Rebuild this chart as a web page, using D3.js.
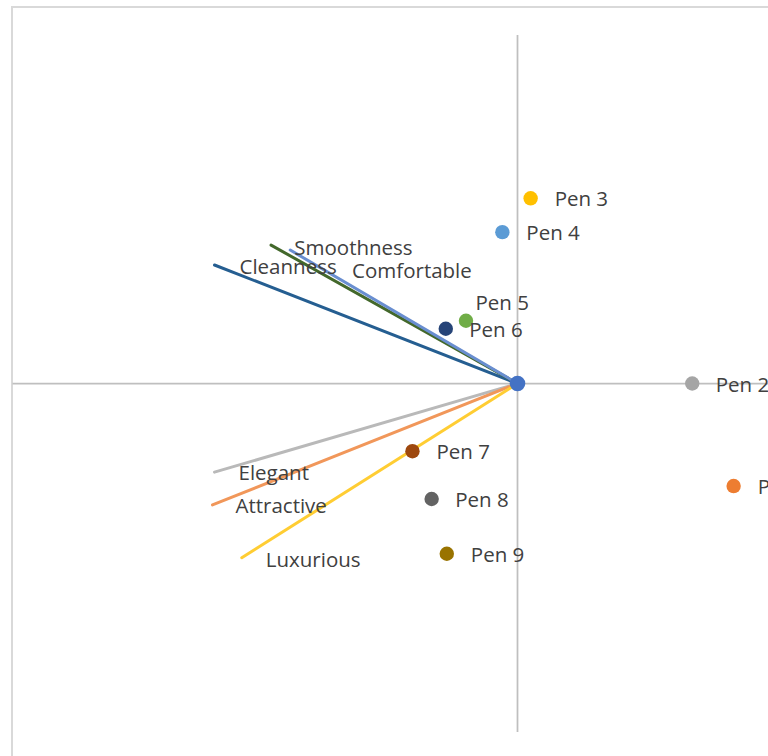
<!DOCTYPE html>
<html>
<head>
<meta charset="utf-8">
<script src="https://cdn.jsdelivr.net/npm/d3@7"></script>
<style>
  html, body { margin: 0; padding: 0; background: #ffffff; overflow: hidden; }
  svg { display: block; }
  text { font-family: "Open Sans", "Noto Sans", sans-serif; font-size: 20.5px; fill: #404040; }
</style>
</head>
<body>
<svg id="chart" width="768" height="756"></svg>
<script>
// ---- data ----
const attributes = ["Cleanness", "Comfortable", "Smoothness", "Elegant", "Attractive", "Luxurious"];
const attrX = [-3.00, -2.44, -2.25, -3.00, -3.02, -2.73];
const attrY = [1.19, 1.39, 1.34, -0.89, -1.22, -1.75];

const pens = ["Pen 1", "Pen 2", "Pen 3", "Pen 4", "Pen 5", "Pen 6", "Pen 7", "Pen 8", "Pen 9"];
const penX = [2.14, 1.73, 0.13, -0.15, -0.51, -0.71, -1.04, -0.85, -0.70];
const penY = [-1.03, 0.00, 1.86, 1.52, 0.63, 0.55, -0.68, -1.16, -1.71];

const originX = [0];
const originY = [0];

// ---- styles / layout ----
const attrColors = ["#255E91", "#43682B", "#698ED0", "#B9B9B9", "#F1975A", "#FFCD33"];
const penColors = ["#ED7D31", "#A5A5A5", "#FFC000", "#5B9BD5", "#70AD47", "#264478", "#9E480E", "#636363", "#997300"];
// label offsets (px) relative to the point / line end
const attrLabelOffset = [[25, 9], [81, 33], [4, 5], [24, 8], [23, 8], [24, 9]];
const penLabelOffset = [[24, 8], [23.5, 8], [24, 8], [24, 8], [9.5, -10.5], [23.5, 8], [24, 8], [23.5, 8], [24, 8]];

const svg = d3.select("#chart");

const x = d3.scaleLinear().domain([-5, 5]).range([12.5, 1022.5]);
const y = d3.scaleLinear().domain([-3.5, 3.5]).range([732, 35]);

// chart frame (cropped)
svg.append("path")
  .attr("d", "M12,757 L12,7 L770,7")
  .attr("fill", "none")
  .attr("stroke", "#D9D9D9")
  .attr("stroke-width", 2);

// axes (no ticks)
svg.append("line")
  .attr("x1", x(-5)).attr("x2", x(5))
  .attr("y1", y(0)).attr("y2", y(0))
  .attr("stroke", "#BFBFBF").attr("stroke-width", 1.75);
svg.append("line")
  .attr("x1", x(0)).attr("x2", x(0))
  .attr("y1", y(3.5)).attr("y2", y(-3.5))
  .attr("stroke", "#BFBFBF").attr("stroke-width", 1.75);

const attrData = attributes.map((name, i) => ({ name, x: attrX[i], y: attrY[i], color: attrColors[i], off: attrLabelOffset[i] }));
const penData = pens.map((name, i) => ({ name, x: penX[i], y: penY[i], color: penColors[i], off: penLabelOffset[i] }));

// attribute vectors
svg.append("g").selectAll("line")
  .data(attrData).join("line")
  .attr("x1", x(originX[0])).attr("y1", y(originY[0]))
  .attr("x2", d => x(d.x)).attr("y2", d => y(d.y))
  .attr("stroke", d => d.color)
  .attr("stroke-width", 3)
  .attr("stroke-linecap", "round");

// pen points
svg.append("g").selectAll("circle")
  .data(penData).join("circle")
  .attr("cx", d => x(d.x)).attr("cy", d => y(d.y))
  .attr("r", 7.2)
  .attr("fill", d => d.color);

// origin point
svg.append("circle")
  .attr("cx", x(originX[0])).attr("cy", y(originY[0]))
  .attr("r", 7.8)
  .attr("fill", "#4472C4");

// labels
svg.append("g").selectAll("text")
  .data(attrData).join("text")
  .attr("x", d => x(d.x) + d.off[0])
  .attr("y", d => y(d.y) + d.off[1])
  .text(d => d.name);

svg.append("g").selectAll("text")
  .data(penData).join("text")
  .attr("x", d => x(d.x) + d.off[0])
  .attr("y", d => y(d.y) + d.off[1])
  .text(d => d.name);
</script>
</body>
</html>
